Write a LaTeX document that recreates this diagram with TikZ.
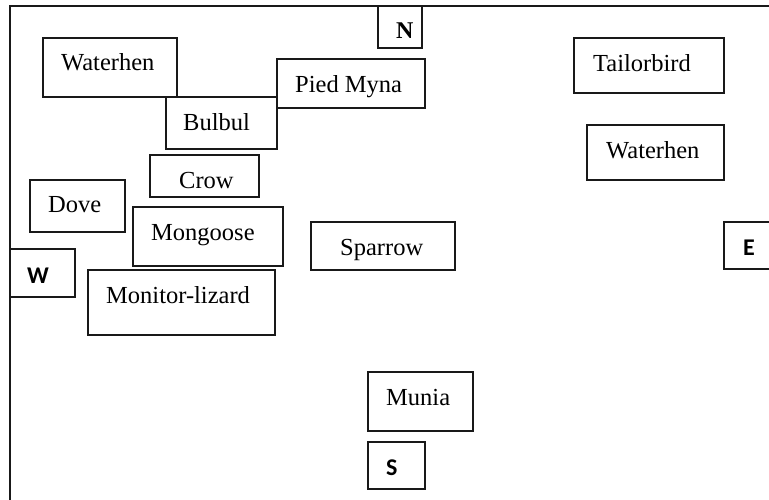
\documentclass[tikz,border=0pt]{standalone}
\usepackage{fontspec}
\setmainfont{Liberation Serif}
\newfontfamily\calfont{Carlito}
\usetikzlibrary{fit}
\begin{document}
\begin{tikzpicture}[x=1pt,y=-1pt,
  box/.style={draw=black!90, line width=1.3pt, inner sep=0pt, rectangle},
  lbl/.style={anchor=base west, inner sep=0pt, font=\fontsize{24.5}{28}\selectfont},
  dir/.style={anchor=base west, inner sep=0pt, font=\fontsize{24}{26}\selectfont\calfont\bfseries},
  dirn/.style={anchor=base west, inner sep=0pt, font=\fontsize{24}{26}\selectfont\bfseries}]
\useasboundingbox (0,0) rectangle (769,499);
\clip (0,0) rectangle (769,499);
\fill[white] (0,0) rectangle (769,499);
% outer frame
\node[box, fit={(10,6)(800,530)}] (frame) {};
% boxes
\node[box, fit={(43,38)(177,97)}] (waterhenA) {};
\node[box, fit={(166,97)(277,149)}] (bulbul) {};
\node[box, fit={(277,59)(425,108)}] (piedmyna) {};
\node[box, fit={(378,6)(422,48)}] (north) {};
\node[box, fit={(574,38)(724,93)}] (tailorbird) {};
\node[box, fit={(587,125)(724,180)}] (waterhenB) {};
\node[box, fit={(150,155)(259,197)}] (crow) {};
\node[box, fit={(30,180)(125,232)}] (dove) {};
\node[box, fit={(133,207)(283,266)}] (mongoose) {};
\node[box, fit={(10,249)(75,297)}] (west) {};
\node[box, fit={(88,270)(275,335)}] (monitor) {};
\node[box, fit={(311,222)(455,270)}] (sparrow) {};
\node[box, fit={(724,222)(800,269)}] (east) {};
\node[box, fit={(368,372)(473,431)}] (munia) {};
\node[box, fit={(368,442)(425,489)}] (south) {};
% texts
\node[lbl] (t1) at (61,70) {Waterhen};
\node[lbl] (t2) at (183,130) {Bulbul};
\node[lbl] (t3) at (295,92) {Pied Myna};
\node[dirn] (t4) at (396,38) {N};
\node[lbl] (t5) at (593,71) {Tailorbird};
\node[lbl] (t6) at (606,158) {Waterhen};
\node[lbl] (t7) at (179,188) {Crow};
\node[lbl] (t8) at (48,212) {Dove};
\node[lbl] (t9) at (151,240) {Mongoose};
\node[dir] (t10) at (27,283) {W};
\node[lbl] (t11) at (106,303) {Monitor-lizard};
\node[lbl] (t12) at (340,255) {Sparrow};
\node[dir] (t13) at (743,255) {E};
\node[lbl] (t14) at (386,405) {Munia};
\node[dir] (t15) at (386,475) {S};
\end{tikzpicture}
\end{document}
